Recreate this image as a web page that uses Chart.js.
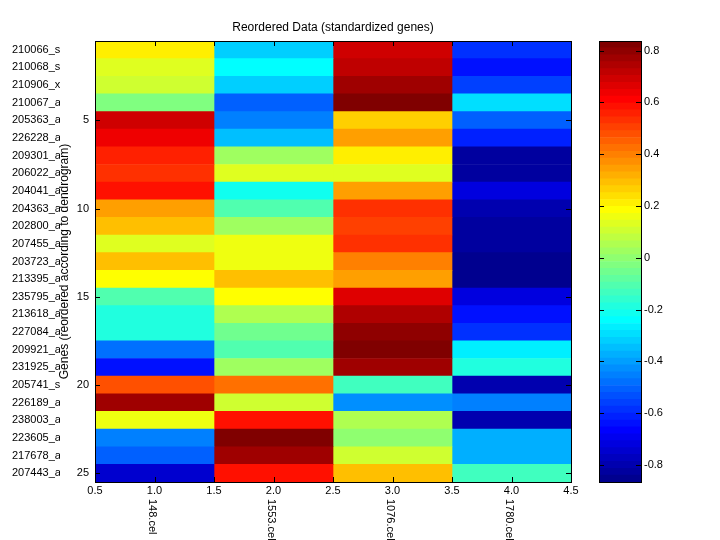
<!DOCTYPE html>
<html>
<head>
<meta charset="utf-8">
<script src="https://cdn.jsdelivr.net/npm/chart.js@4"></script>
<style>
  body { margin: 0; background: #fff; }
  #wrap { position: relative; width: 720px; height: 540px; }
  #heat { position: absolute; left: 0; top: 0; }
  #bar { position: absolute; left: 590px; top: 0; }
</style>
</head>
<body>
<div id="wrap">
  <canvas id="heat" width="720" height="540"></canvas>
  <canvas id="bar" width="130" height="540"></canvas>
</div>
<script>
const geneNames = ["210066_s", "210068_s", "210906_x", "210067_a", "205363_a", "226228_a", "209301_a",
  "206022_a", "204041_a", "204363_a", "202800_a", "207455_a", "203723_a", "213395_a", "235795_a",
  "213618_a", "227084_a", "209921_a", "231925_a", "205741_s", "226189_a", "238003_a", "223605_a",
  "217678_a", "207443_a"];
const sampleNames = ["148.cel", "1553.cel", "1076.cel", "1780.cel"];

// standardized expression per sample, rows in dendrogram order
const expr148 = [0.212, 0.132, 0.105, -0.028, 0.690, 0.637, 0.557, 0.532, 0.584, 0.345, 0.291, 0.132, 0.291,
  0.185, -0.108, -0.187, -0.187, -0.480, -0.640, 0.478, 0.770, 0.158, -0.454, -0.507, -0.746];
const expr1553 = [-0.320, -0.241, -0.320, -0.507, -0.454, -0.347, 0.025, 0.132, -0.214, -0.108, 0.025, 0.158, 0.158,
  0.291, 0.185, 0.052, -0.054, -0.108, 0.025, 0.424, 0.105, 0.584, 0.824, 0.770, 0.584];
const expr1076 = [0.690, 0.717, 0.770, 0.837, 0.265, 0.345, 0.212, 0.132, 0.345, 0.532, 0.504, 0.532, 0.398,
  0.345, 0.664, 0.744, 0.797, 0.824, 0.770, -0.134, -0.427, 0.052, -0.001, 0.105, 0.291];
const expr1780 = [-0.587, -0.640, -0.560, -0.294, -0.507, -0.613, -0.826, -0.826, -0.720, -0.799, -0.826, -0.826, -0.866,
  -0.853, -0.720, -0.640, -0.587, -0.267, -0.187, -0.799, -0.454, -0.799, -0.374, -0.374, -0.134];

const xTicks = [0.5, 1, 1.5, 2, 2.5, 3, 3.5, 4, 4.5];
const yTicks = [5, 10, 15, 20, 25];
const cbarTicks = [-0.8, -0.6, -0.4, -0.2, 0, 0.2, 0.4, 0.6, 0.8];

const columns = [expr148, expr1553, expr1076, expr1780];
const allVals = columns.flat();
const cmin = Math.min(...allVals);
const cmax = Math.max(...allVals);
const nColors = 64;

// matlab jet(64), k = 1..64
function jet(k) {
    const r = k <= 24 ? 0 : k <= 40 ? (k - 24) / 16 : k <= 56 ? 1 : (72 - k) / 16;
    const g = k <= 8 ? 0 : k <= 24 ? (k - 8) / 16 : k <= 40 ? 1 : k <= 55 ? (56 - k) / 16 : 0;
    const b = k <= 8 ? (k + 8) / 16 : k <= 24 ? 1 : k <= 39 ? (40 - k) / 16 : 0;
    return `rgb(${Math.round(r * 255)},${Math.round(g * 255)},${Math.round(b * 255)})`;
}
function valueColor(v) {
    const k = Math.min(nColors, Math.floor((v - cmin) / (cmax - cmin) * nColors) + 1);
    return jet(k);
}

const family = "'Liberation Sans', Arial, sans-serif";
Chart.defaults.font.family = family;
Chart.defaults.font.size = 11;
Chart.defaults.color = '#000';

// box + inward tick marks like matlab axes
const boxTicks = {
    id: 'boxTicks',
    afterDatasetsDraw(chart, args, opts) {
        const { ctx, chartArea: a } = chart;
        const len = 5;
        ctx.save();
        ctx.strokeStyle = '#000';
        ctx.lineWidth = 1;
        ctx.beginPath();
        (opts.xs || []).forEach(id => {
            const s = chart.scales[id];
            s.ticks.forEach(t => {
                const px = Math.round(s.getPixelForValue(t.value)) + 0.5;
                ctx.moveTo(px, a.bottom); ctx.lineTo(px, a.bottom - len);
                ctx.moveTo(px, a.top); ctx.lineTo(px, a.top + len);
            });
        });
        (opts.ys || []).forEach(id => {
            const s = chart.scales[id];
            s.ticks.forEach(t => {
                const py = Math.round(s.getPixelForValue(t.value)) + 0.5;
                ctx.moveTo(a.left, py); ctx.lineTo(a.left + len, py);
                ctx.moveTo(a.right, py); ctx.lineTo(a.right - len, py);
            });
        });
        ctx.stroke();
        ctx.strokeRect(Math.round(a.left) + 0.5, Math.round(a.top) + 0.5, Math.round(a.width), Math.round(a.height));
        ctx.restore();
    }
};

// sample names, rotated clockwise under the integer ticks
const sampleLabels = {
    id: 'sampleLabels',
    afterDraw(chart) {
        const { ctx, chartArea: a } = chart;
        const xs = chart.scales.x;
        ctx.save();
        ctx.font = `11px ${family}`;
        ctx.fillStyle = '#000';
        ctx.textAlign = 'left';
        ctx.textBaseline = 'middle';
        sampleNames.forEach((name, i) => {
            ctx.save();
            ctx.translate(xs.getPixelForValue(i + 1) - 2, a.bottom + 17);
            ctx.rotate(Math.PI / 2);
            ctx.fillText(name, 0, 0);
            ctx.restore();
        });
        ctx.restore();
    }
};

const heatSets = columns.map((vals, c) => ({
    label: sampleNames[c],
    data: vals.map((v, i) => ({ y: i + 1, x: [c + 0.5, c + 1.5] })),
    backgroundColor: vals.map(valueColor),
    borderWidth: 0,
    grouped: false,
    barPercentage: 1,
    categoryPercentage: 1,
    xAxisID: 'x',
    yAxisID: 'y'
}));

new Chart(document.getElementById('heat'), {
    type: 'bar',
    data: { datasets: heatSets },
    options: {
        indexAxis: 'y',
        responsive: false,
        animation: false,
        layout: { padding: { left: 12, right: 149, top: 0, bottom: 0 } },
        plugins: {
            legend: { display: false },
            tooltip: { enabled: false },
            title: {
                display: true,
                text: 'Reordered Data (standardized genes)',
                fullSize: false,
                color: '#000',
                font: { size: 12, weight: 'normal' },
                padding: { top: 20.3, bottom: 6.3 }
            },
            boxTicks: { xs: ['x'], ys: ['y'] }
        },
        scales: {
            x: {
                type: 'linear',
                position: 'bottom',
                min: 0.5,
                max: 4.5,
                afterBuildTicks: (s) => { s.ticks = xTicks.map(v => ({ value: v })); },
                afterFit: (s) => { s.height = 58; },
                grid: { display: false, drawTicks: false },
                border: { display: false },
                ticks: { padding: 2.4, maxRotation: 0, autoSkip: false }
            },
            y: {
                type: 'linear',
                position: 'left',
                reverse: true,
                offset: false,
                min: 0.5,
                max: 25.5,
                weight: 0,
                afterBuildTicks: (s) => { s.ticks = yTicks.map(v => ({ value: v })); },
                afterFit: (s) => { s.width = 35; },
                grid: { display: false, drawTicks: false },
                border: { display: false },
                ticks: { padding: 6 },
                title: {
                    display: true,
                    text: 'Genes (reordered according to dendrogram)',
                    font: { size: 12 },
                    padding: { top: -3, bottom: 0 }
                }
            },
            yNames: {
                type: 'category',
                position: 'left',
                labels: geneNames,
                offset: true,
                weight: 1,
                afterFit: (s) => { s.width = 48; },
                grid: { display: false, drawTicks: false },
                border: { display: false },
                ticks: { crossAlign: 'far', autoSkip: false, padding: 0 }
            }
        }
    },
    plugins: [boxTicks, sampleLabels]
});

// colorbar
const levelSets = [];
for (let i = 0; i < nColors; i++) {
    const lo = cmin + i * (cmax - cmin) / nColors;
    const hi = cmin + (i + 1) * (cmax - cmin) / nColors;
    levelSets.push({
        data: [[lo, hi]],
        backgroundColor: jet(i + 1),
        borderWidth: 0,
        grouped: false,
        barPercentage: 1,
        categoryPercentage: 1
    });
}

new Chart(document.getElementById('bar'), {
    type: 'bar',
    data: { labels: [''], datasets: levelSets },
    options: {
        responsive: false,
        animation: false,
        layout: { padding: { left: 9, right: 0, top: 41, bottom: 58 } },
        plugins: {
            legend: { display: false },
            tooltip: { enabled: false },
            boxTicks: { xs: [], ys: ['y'] }
        },
        scales: {
            x: { display: false },
            y: {
                type: 'linear',
                position: 'right',
                min: cmin,
                max: cmax,
                afterBuildTicks: (s) => { s.ticks = cbarTicks.map(v => ({ value: v })); },
                afterFit: (s) => { s.width = 79; },
                grid: { display: false, drawTicks: false },
                border: { display: false },
                ticks: { padding: 3 }
            }
        }
    },
    plugins: [boxTicks]
});
</script>
</body>
</html>
